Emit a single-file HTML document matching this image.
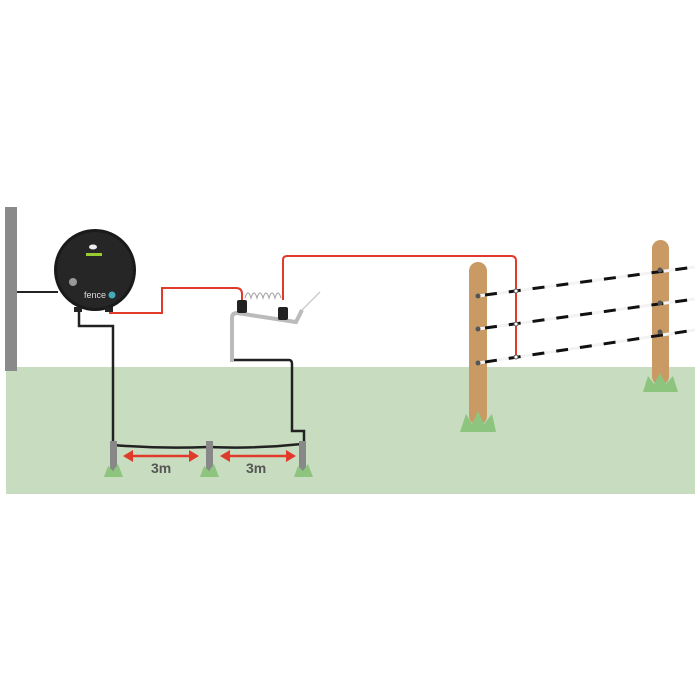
<!DOCTYPE html>
<html><head><style>body{margin:0;background:#fff}svg{display:block}</style></head><body>
<svg width="700" height="700" viewBox="0 0 700 700" xmlns="http://www.w3.org/2000/svg">
<rect x="6" y="367" width="689" height="127" fill="#c8dcc0"/>
<rect x="5" y="207" width="12" height="164" fill="#8a8a8a"/>
<path d="M17 292 H58" stroke="#222" stroke-width="2" fill="none"/>
<path d="M79 308 V326 H113 V445" stroke="#222" stroke-width="2.5" fill="none"/>
<path d="M113 445 Q160 449 208 447 Q255 449 302 444" stroke="#222" stroke-width="2.5" fill="none"/>
<path d="M233 360 H289 Q292 360 292 364 V431 H304 V444" stroke="#222" stroke-width="2.5" fill="none"/>
<g fill="#888"><rect x="110" y="441" width="7" height="30"/><rect x="206" y="441" width="7" height="30"/><rect x="299" y="441" width="7" height="30"/></g>
<g fill="#8dc47e"><path d="M104 477 L108 466 L113 471 L118 464 L123 477Z"/><path d="M200 477 L204 466 L209 471 L214 464 L219 477Z"/><path d="M294 477 L298 466 L303 471 L308 464 L313 477Z"/></g>
<g stroke="#e03a2a" stroke-width="2.5" fill="#e03a2a">
<line x1="130" y1="456" x2="192" y2="456"/><line x1="228" y1="456" x2="288" y2="456"/>
</g>
<g fill="#e03a2a"><path d="M123 456 L133 450 L133 462Z"/><path d="M199 456 L189 450 L189 462Z"/><path d="M220 456 L230 450 L230 462Z"/><path d="M296 456 L286 450 L286 462Z"/></g>
<text x="151" y="473" font-family="Liberation Sans,sans-serif" font-weight="bold" font-size="14" fill="#555">3m</text>
<text x="246" y="473" font-family="Liberation Sans,sans-serif" font-weight="bold" font-size="14" fill="#555">3m</text>
<path d="M110 310 V313 H162 V288 H236 Q242 288 242 294 V300" stroke="#e03a2a" stroke-width="2" fill="none"/>
<path d="M283 300 V260 Q283 256 287 256 H511 Q516 256 516 261 V357" stroke="#e03a2a" stroke-width="2" fill="none"/>
<path d="M232 362 V318 Q232 313 237 313 L296 322 L302 310" stroke="#bbb" stroke-width="4" fill="none"/>
<path d="M302 310 L320 292" stroke="#ccc" stroke-width="1.5"/>
<path d="M245 298 q3 -10 6 0 q3 -10 6 0 q3 -10 6 0 q3 -10 6 0 q3 -10 6 0 q3 -10 6 0" stroke="#aaa" stroke-width="1.2" fill="none"/>
<rect x="237" y="300" width="10" height="13" rx="2" fill="#222"/>
<rect x="278" y="307" width="10" height="13" rx="2" fill="#222"/>
<circle cx="95" cy="270" r="41" fill="#1a1a1a"/>
<circle cx="95" cy="270" r="38" fill="#262626"/>
<ellipse cx="93" cy="247" rx="4" ry="2.5" fill="#eee"/>
<rect x="86" y="253" width="16" height="3" fill="#9c3"/>
<circle cx="73" cy="282" r="4" fill="#999"/>
<text x="84" y="298" font-family="Liberation Sans,sans-serif" font-size="9" fill="#ddd">fence</text>
<circle cx="112" cy="295" r="3.5" fill="#4ab"/>
<rect x="74" y="307" width="8" height="5" fill="#222"/><rect x="105" y="307" width="8" height="5" fill="#222"/>
<rect x="469" y="262" width="18" height="163" rx="9" fill="#c99a63"/>
<rect x="652" y="240" width="17" height="145" rx="8.5" fill="#c99a63"/>
<path d="M460 432 L466 414 L472 424 L478 411 L484 424 L492 414 L496 432Z" fill="#8dc47e"/>
<path d="M643 392 L648 376 L654 384 L660 373 L666 384 L673 376 L678 392Z" fill="#8dc47e"/>
<g stroke-width="3">
<line x1="478" y1="296" x2="695" y2="267" stroke="#f3f3f3"/>
<line x1="478" y1="329" x2="695" y2="299" stroke="#f3f3f3"/>
<line x1="478" y1="363" x2="695" y2="330" stroke="#f3f3f3"/>
<g stroke="#111" stroke-dasharray="12 12">
<line x1="485" y1="295" x2="695" y2="267"/>
<line x1="485" y1="328" x2="695" y2="299"/>
<line x1="485" y1="362" x2="695" y2="330"/>
</g></g>
<g fill="#555"><circle cx="478" cy="296" r="2.5"/><circle cx="478" cy="329" r="2.5"/><circle cx="478" cy="363" r="2.5"/><circle cx="660" cy="270" r="2.5"/><circle cx="660" cy="303" r="2.5"/><circle cx="660" cy="332" r="2.5"/></g>
<g fill="#fff" stroke="#555" stroke-width="1"><circle cx="516" cy="291" r="2"/><circle cx="516" cy="324" r="2"/><circle cx="516" cy="357" r="2"/></g>
</svg>
</body></html>
